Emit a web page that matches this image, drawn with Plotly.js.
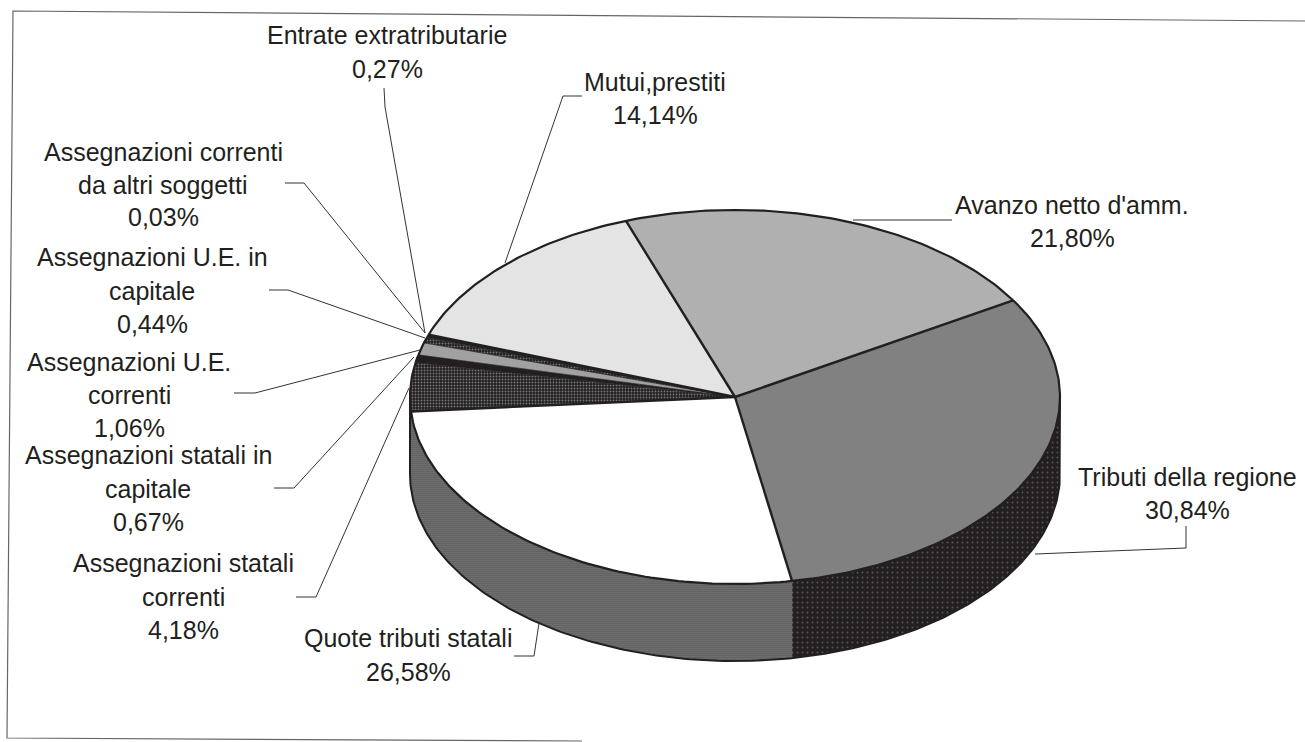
<!DOCTYPE html>
<html>
<head>
<meta charset="utf-8">
<script src="https://cdn.plot.ly/plotly-3.0.1.min.js"></script>
<style>html,body{margin:0;padding:0;background:#fff}#chart{width:1305px;height:742px}</style>
</head>
<body>
<div id="chart"></div>
<script>
// Data, clockwise from the slice boundary at the upper left
const categories = ["Avanzo netto d'amm.", "Tributi della regione", "Quote tributi statali", "Assegnazioni statali correnti", "Assegnazioni statali in capitale", "Assegnazioni U.E. correnti", "Assegnazioni U.E. in capitale", "Assegnazioni correnti da altri soggetti", "Entrate extratributarie", "Mutui,prestiti"];
const values = [21.80, 30.84, 26.58, 4.18, 0.67, 1.06, 0.44, 0.03, 0.27, 14.14];
const valueLabels = ["21,80%", "30,84%", "26,58%", "4,18%", "0,67%", "1,06%", "0,44%", "0,03%", "0,27%", "14,14%"];
const labelLines = [["Avanzo netto d'amm."], ["Tributi della regione"], ["Quote tributi statali"], ["Assegnazioni statali", "correnti"], ["Assegnazioni statali in", "capitale"], ["Assegnazioni U.E.", "correnti"], ["Assegnazioni U.E. in", "capitale"], ["Assegnazioni correnti", "da altri soggetti"], ["Entrate extratributarie"], ["Mutui,prestiti"]];
const labelCenterX = [1072, 1187, 408, 183, 148, 129, 152, 163, 387, 655];
const labelTopY = [205, 477, 638, 563, 455, 362, 257, 152, 35, 82];
const lineGap = [33, 33, 34, 33.5, 33.5, 33, 33.5, 32.5, 34, 33];
const leaderX = [[952, 853], [1186, 1186, 1035], [514, 534, 539], [296, 316, 409], [274, 294, 414], [234, 255, 420], [269, 288, 425], [285, 304, 425], [384, 385, 425], [582, 563, 505]];
const leaderY = [[220, 220], [526, 548, 554], [656, 656, 623], [597, 597, 388], [488, 488, 357], [393, 393, 350], [290, 290, 338], [183, 183, 333], [88, 107, 333], [96, 96, 263]];

// Pie geometry in chart pixels
const cx = 735, cy = 397, rx = 325, ry = 187, depth = 77, startAngle = -19.6;
const dark = '#231f20';
const topFill = [
  {bg:'#dedede', fg:'#666', size:2, sol:.4},
  {bg:'#b0b0b0', fg:'#3a3a3a', size:2, sol:.45},
  null,
  {bg:'#231f20', fg:'#777', size:3, sol:.3},
  null,
  {bg:'#d0d0d0', fg:'#555', size:2, sol:.4},
  {bg:'#231f20', fg:'#777', size:3, sol:.3},
  null, null,
  {bg:'#fbfbfb', fg:'#bbb', size:2, sol:.35}
];
const solidTop = {2:'#ffffff', 4:dark, 7:dark, 8:dark};
const sideFill = {
  1:{bg:'#231f20', fg:'#555', size:5, sol:.12},
  2:{bg:'#a4a4a4', fg:'#2a2a2a', size:2, sol:.55},
  3:{bg:'#231f20', fg:'#777', size:3, sol:.3}
};

const px = a => cx + rx * Math.sin(a * Math.PI / 180);
const py = a => cy - ry * Math.cos(a * Math.PI / 180);
function arc(a, b) {
  const out = [], n = Math.max(2, Math.ceil(Math.abs(b - a)));
  for (let i = 0; i <= n; i++) out.push(a + (b - a) * i / n);
  return out;
}
const total = values.reduce((s, v) => s + v, 0);
const edges = [startAngle];
values.forEach(v => edges.push(edges[edges.length - 1] + v / total * 360));

function pat(p) {
  return {shape: '.', size: p.size, solidity: p.sol, fgcolor: p.fg, bgcolor: p.bg, fgopacity: 1};
}
const traces = [];
const base = {mode: 'lines', hoverinfo: 'skip', showlegend: false};

// side wall, lower half only
values.forEach((v, i) => {
  const a = Math.max(edges[i], 90), b = Math.min(edges[i + 1], 270);
  if (b <= a || !sideFill[i]) return;
  const t = arc(a, b), r = t.slice().reverse();
  traces.push(Object.assign({}, base, {
    x: t.map(px).concat(r.map(px)),
    y: t.map(py).concat(r.map(q => py(q) + depth)),
    fill: 'toself', line: {width: 0}, fillcolor: sideFill[i].bg, fillpattern: pat(sideFill[i])
  }));
});
// side outline
const sideArc = arc(90, 270);
traces.push(Object.assign({}, base, {
  x: [px(90)].concat(sideArc.map(px), [px(270)]),
  y: [py(90)].concat(sideArc.map(q => py(q) + depth), [py(270)]),
  line: {color: dark, width: 2}
}));
// top slices
values.forEach((v, i) => {
  const t = arc(edges[i], edges[i + 1]);
  const tr = Object.assign({}, base, {
    x: [cx].concat(t.map(px), [cx]),
    y: [cy].concat(t.map(py), [cy]),
    fill: 'toself', line: {width: 0}
  });
  if (topFill[i]) { tr.fillcolor = topFill[i].bg; tr.fillpattern = pat(topFill[i]); }
  else tr.fillcolor = solidTop[i];
  traces.push(tr);
});
// top outline and radial boundaries
const ring = arc(0, 360);
traces.push(Object.assign({}, base, {x: ring.map(px), y: ring.map(py), line: {color: dark, width: 2.2}}));
edges.slice(0, -1).forEach((e, i) => {
  const thin = i >= 4 && i <= 8;
  traces.push(Object.assign({}, base, {
    x: [cx, px(e)], y: [cy, py(e)],
    line: {color: dark, width: thin ? 0.8 : 2.4}
  }));
});
// leaders
leaderX.forEach((lx, i) => {
  traces.push(Object.assign({}, base, {x: lx, y: leaderY[i], line: {color: '#333', width: 1}}));
});
// frame
traces.push(Object.assign({}, base, {x: [1305, 13, 7, 582], y: [21, 11, 738, 741], line: {color: '#666', width: 1.2}}));

const annotations = [];
categories.forEach((c, i) => {
  const lines = labelLines[i].concat([valueLabels[i]]);
  lines.forEach((t, k) => {
    annotations.push({
      x: labelCenterX[i], y: labelTopY[i] + k * lineGap[i], xref: 'x', yref: 'y',
      text: t, showarrow: false, xanchor: 'center', yanchor: 'middle',
      font: {family: '"Liberation Sans", Arial, sans-serif', size: 25, color: '#231f20'}
    });
  });
});

Plotly.newPlot('chart', traces, {
  width: 1305, height: 742,
  margin: {l: 0, r: 0, t: 0, b: 0},
  paper_bgcolor: '#ffffff', plot_bgcolor: '#ffffff',
  xaxis: {range: [0, 1305], visible: false, fixedrange: true},
  yaxis: {range: [742, 0], visible: false, fixedrange: true},
  showlegend: false,
  annotations: annotations
}, {staticPlot: true, displayModeBar: false});
</script>
</body>
</html>
